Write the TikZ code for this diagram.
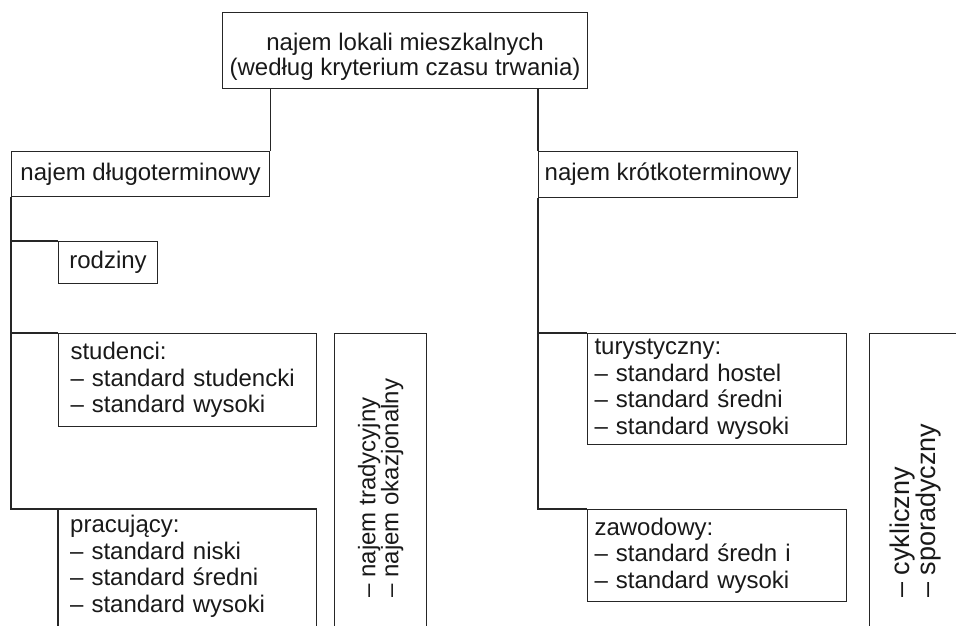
\documentclass[tikz,border=0pt]{standalone}
\usepackage{fontspec}
\setmainfont{Liberation Sans}
\begin{document}
\begin{tikzpicture}[x=1pt,y=-1pt,
  every node/.style={font=\fontsize{24}{26.5}\selectfont, text=black!90},
  box/.style={draw=black!85, line width=1.1pt, rectangle, inner sep=0pt, anchor=north west},
  listbox/.style={box, align=left},
  rotbox/.style={draw=black!85, line width=1.1pt, rectangle, inner sep=0pt, rotate=90, anchor=north east, align=left},
  link/.style={draw=black!85, line width=1.1pt}]
\useasboundingbox (0,0) rectangle (956,626);
\clip (0,0) rectangle (956,626);

\node[box, align=center, minimum width=365pt, minimum height=76pt,
      font=\fontsize{24}{25}\selectfont] (main) at (222,12)
  {\rule{0pt}{30pt}najem lokali mieszkalnych\\(według kryterium czasu trwania)};

\node[box, minimum width=258pt, minimum height=45pt] (dlugo) at (11,151) {najem długoterminowy};
\node[box, minimum width=259pt, minimum height=46pt] (krotko) at (538,151) {najem krótkoterminowy};

\node[box, minimum width=99pt, minimum height=42pt] (rodz) at (58,241) {rodziny};

\node[listbox, text width=234pt, inner xsep=12pt, minimum height=93pt] (stud) at (58,333)
  {studenci:\\– standard studencki\\– standard wysoki};

\node[anchor=north west, align=left, text width=234pt, inner xsep=12pt, inner ysep=6pt] (prac) at (58,509)
  {pracujący:\\– standard niski\\– standard średni\\– standard wysoki};
\draw[link] (prac.north west) ++(0,150) -- (prac.north west) -- (prac.north east) -- ++(0,150);

\node[listbox, text width=245pt, inner xsep=7pt, minimum height=111pt] (tur) at (587,333)
  {turystyczny:\\– standard hostel\\– standard średni\\– standard wysoki};

\node[listbox, text width=245pt, inner xsep=7pt, minimum height=92pt] (zaw) at (587,509)
  {zawodowy:\\– standard średn i\\– standard wysoki};

\node[rotbox, minimum width=309pt, minimum height=92pt,
      font=\fontsize{24}{23}\selectfont] (okaz) at (334,333)
  {– najem tradycyjny\\– najem okazjonalny};

\node[rotbox, minimum width=354pt, minimum height=92pt,
      font=\fontsize{27}{23}\selectfont] (cykl) at (869,333)
  {– cykliczny\\– sporadyczny};

\draw[link] (main.south -| dlugo.north east) -- (dlugo.north east);
\draw[link] (main.south -| krotko.north west) -- (krotko.north west);

\draw[link] (dlugo.south west) |- (rodz.north west);
\draw[link] (dlugo.south west) |- (stud.north west);
\draw[link] (dlugo.south west) |- (prac.north west);

\draw[link] (krotko.south west) |- (tur.north west);
\draw[link] (krotko.south west) |- (zaw.north west);
\end{tikzpicture}
\end{document}
